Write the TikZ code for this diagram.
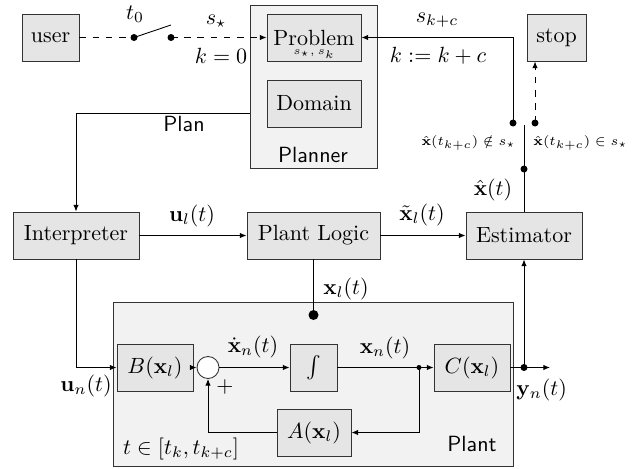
\documentclass[tikz,border=0pt]{standalone}
\usepackage{amsmath,amssymb}
\usetikzlibrary{arrows.meta,calc}
\newcommand\PX{0.4545pt}
\begin{document}
\begin{tikzpicture}[x=0.4545pt,y=-0.4545pt,
  blk/.style={draw=black!80, fill=gray!20, inner sep=0pt, minimum height=47*\PX},
  cont/.style={draw=black!80, fill=gray!10, inner sep=0pt},
  dotn/.style={circle, fill=black, inner sep=0pt, minimum size=7*\PX},
  sdot/.style={circle, fill=black, inner sep=0pt, minimum size=5*\PX},
  arr/.style={-{Latex[length=3pt,width=2.4pt]}},
  sflbl/.style={font=\sffamily},
  condlbl/.style={font=\fontsize{6pt}{7pt}\selectfont, inner sep=0pt},
  ]
\useasboundingbox (0,0) rectangle (633,468);
% Planner
\node[cont, minimum width=127*\PX, minimum height=163*\PX] (planner) at (313.5,86.5) {};
\node[sflbl] (plannerlbl) at (313,155) {Planner};
\node[blk, minimum width=94*\PX] (problem) at (314,37.5) {Problem};
\node[font=\tiny] (probsub) at (314,54) {$s_\star,s_k$};
\node[blk, minimum width=94*\PX] (domain) at (314,103.5) {Domain};
% user, switch, stop
\node[blk, minimum width=57*\PX] (user) at (50.5,37.5) {user};
\node[blk, minimum width=59*\PX] (stop) at (556.5,37.5) {stop};
\node[dotn] (sw1) at (134,37.5) {};
\node[dotn] (sw2) at (171,37.5) {};
\coordinate (swtip) at (171,25);
\draw (sw1.center) -- (swtip);
\draw[dashed] (user) -- (sw1);
\draw[dashed, arr] (sw2.center) -- (problem.west);
\node (t0) at (135,14) {$t_0$};
\node (sstar) at (216,21) {$s_\star$};
\node (k0) at (221,56) {$k=0$};
% feedback to problem
\node[dotn] (nd1) at (513,123) {};
\node[dotn] (nd2) at (535,123) {};
\draw[arr] (nd1.center) |- (problem.east);
\draw[dashed, arr] (nd2.center) -- (nd2 |- stop.south);
\node (skc) at (437,20) {$s_{k+c}$};
\node (kk) at (438,56) {$k:=k+c$};
\node[condlbl, anchor=east] (notin) at (516,143) {$\hat{\mathbf{x}}(t_{k+c})\notin s_\star$};
\node[condlbl, anchor=west] (isin) at (533,143) {$\hat{\mathbf{x}}(t_{k+c})\in s_\star$};
% middle row
\node[blk, minimum width=126*\PX] (interp) at (76,235.5) {Interpreter};
\node[blk, minimum width=133*\PX] (plogic) at (313.5,235.5) {Plant Logic};
\node[blk, minimum width=116*\PX] (est) at (524,235.5) {Estimator};
\node[dotn] (fb) at (524,169) {};
\coordinate (fbtop) at (524,125);
\draw (est.north) -- (fb.center) -- (fbtop);
\node[inner sep=1pt] (xhat) at (493,190) {$\hat{\mathbf{x}}(t)$};
\coordinate (planout) at (250,113);
\draw[arr] (planout) -| (interp.north);
\node[sflbl] (planlbl) at (184,124) {Plan};
\draw[arr] (interp.east) -- (plogic.west);
\draw[arr] (plogic.east) -- (est.west);
\node (ul) at (192,216) {$\mathbf{u}_l(t)$};
\node (xtl) at (422,215) {$\tilde{\mathbf{x}}_l(t)$};
% Plant
\node[cont, minimum width=400*\PX, minimum height=164*\PX] (plant) at (313,384) {};
\node[sflbl] (plantlbl) at (472,444) {Plant};
\node[dotn, minimum size=10*\PX] (pld) at (313.5,315) {};
\draw (plogic.south) -- (pld.center);
\node (xl) at (346,289) {$\mathbf{x}_l(t)$};
\node[blk, minimum width=76*\PX] (B) at (155,367.5) {$B(\mathbf{x}_l)$};
\node[circle, draw=black!80, fill=white, inner sep=0pt, minimum size=22*\PX] (sum) at (208,367.5) {};
\node[blk, minimum width=47*\PX] (int) at (313.5,367.5) {$\int$};
\node[blk, minimum width=76*\PX] (C) at (472,367.5) {$C(\mathbf{x}_l)$};
\node[blk, minimum width=74*\PX] (A) at (314,432.5) {$A(\mathbf{x}_l)$};
\node[sdot] (xnd) at (419,367.5) {};
\node[dotn] (ydot) at (524,367.5) {};
\coordinate (yend) at (550,367.5);
\draw[arr] (interp.south) |- (B.west);
\draw[arr] (B.east) -- (sum.west);
\draw[arr] (sum.east) -- (int.west);
\draw (int.east) -- (xnd.center);
\draw[arr] (xnd.center) -- (C.west);
\draw[arr] (xnd.center) |- (A.east);
\draw[arr] (A.west) -| (sum.south);
\draw[arr] (C.east) -- (yend);
\draw[arr] (ydot.center) -- (est.south);
\node (xdot) at (253,347) {$\dot{\mathbf{x}}_n(t)$};
\node (xn) at (385,348) {$\mathbf{x}_n(t)$};
\node (plus) at (225,387) {$+$};
\node[anchor=east, inner sep=0pt] (un) at (112,386) {$\mathbf{u}_n(t)$};
\node[anchor=west, inner sep=0pt] (yn) at (516,390) {$\mathbf{y}_n(t)$};
\node (tint) at (181,449) {$t\in[t_k,t_{k+c}]$};
\end{tikzpicture}
\end{document}
